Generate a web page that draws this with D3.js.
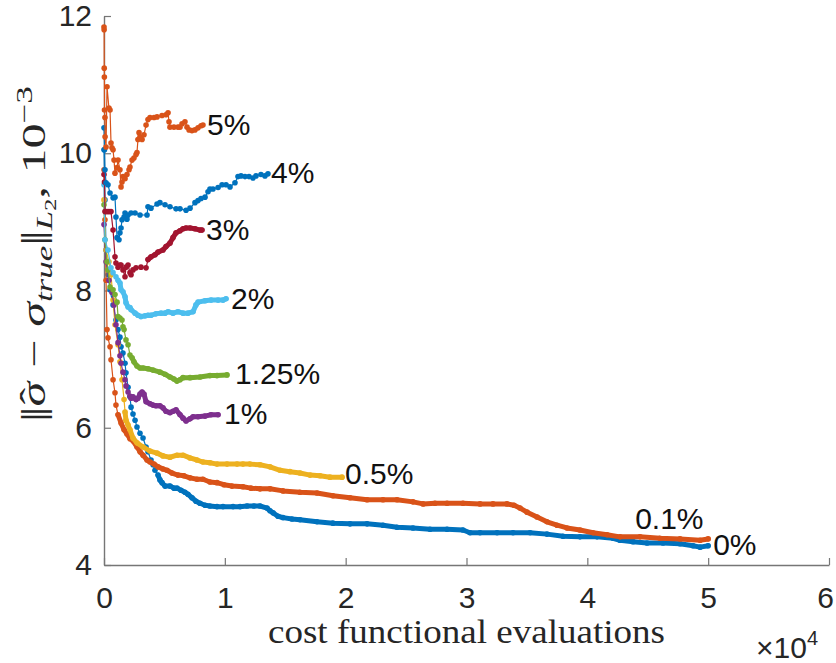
<!DOCTYPE html>
<html>
<head>
<meta charset="utf-8">
<script src="https://cdn.jsdelivr.net/npm/d3@7"></script>
<style>
  html, body { margin: 0; padding: 0; background: #fff; }
  svg { display: block; }
</style>
</head>
<body>
<svg id="chart" width="836" height="663"></svg>
<script>
// curve names, in plotting order (matlab colour order)
const names = ['0%', '0.1%', '0.5%', '1%', '1.25%', '2%', '3%', '4%', '5%'];

// cost functional evaluations / error (x 10^-3)
const evals0 = [0, 80, 170, 330, 500, 750, 990, 1160, 1320, 1410, 1570, 1740, 1820, 1990, 2150, 2240, 2400, 2570, 2730, 2980, 3230, 3480, 3640, 3890, 4060, 4220, 4470, 4630, 4800, 5050, 5460, 5790, 6040, 6370, 6700, 6950, 7280, 7610, 7940, 8360, 8770, 9350, 9850, 10680, 11260, 11840, 12410, 12910, 13490, 13740, 13990, 14400, 14810, 15560, 16220, 17630, 18950, 20360, 21770, 23090, 24250, 25570, 26980, 28390, 29710, 30290, 31120, 32530, 33850, 35260, 36660, 37990, 39390, 40800, 42130, 42700, 43780, 44940, 46260, 47670, 48750, 49330, 50000];
const err0 = [10.05, 9.32, 8.59, 8.23, 8.01, 7.79, 7.57, 7.43, 7.32, 7.18, 7.09, 6.94, 6.80, 6.59, 6.45, 6.30, 6.20, 6.11, 6.01, 5.92, 5.85, 5.72, 5.65, 5.53, 5.46, 5.38, 5.31, 5.24, 5.20, 5.15, 5.15, 5.12, 5.12, 5.09, 5.06, 5.03, 4.98, 4.93, 4.90, 4.87, 4.86, 4.85, 4.85, 4.85, 4.85, 4.86, 4.86, 4.86, 4.83, 4.79, 4.76, 4.71, 4.69, 4.67, 4.66, 4.63, 4.61, 4.60, 4.60, 4.58, 4.55, 4.54, 4.52, 4.52, 4.51, 4.47, 4.47, 4.47, 4.47, 4.47, 4.45, 4.42, 4.41, 4.41, 4.39, 4.36, 4.34, 4.32, 4.32, 4.31, 4.28, 4.26, 4.28];

const evals01 = [0, 80, 170, 250, 330, 500, 580, 750, 910, 990, 1160, 1410, 1660, 1900, 2150, 2400, 2730, 2980, 3230, 3560, 3810, 4140, 4470, 4880, 5210, 5630, 6120, 6620, 7120, 7700, 8190, 8770, 9350, 9930, 10590, 11500, 12170, 12910, 13740, 14810, 16220, 17630, 18950, 20360, 21770, 23090, 24250, 25570, 26400, 27390, 28390, 29710, 31120, 32190, 33350, 33930, 34430, 35010, 35840, 36660, 37490, 38320, 39390, 40470, 41630, 42700, 44360, 46010, 47670, 49330, 50000];
const err01 = [9.76, 9.03, 8.15, 7.43, 7.31, 7.18, 6.99, 6.70, 6.51, 6.33, 6.19, 6.07, 5.97, 5.91, 5.84, 5.81, 5.72, 5.65, 5.60, 5.53, 5.50, 5.47, 5.43, 5.40, 5.38, 5.34, 5.31, 5.30, 5.27, 5.25, 5.25, 5.21, 5.20, 5.17, 5.15, 5.14, 5.12, 5.11, 5.11, 5.08, 5.06, 5.05, 5.01, 4.98, 4.95, 4.95, 4.95, 4.92, 4.89, 4.90, 4.90, 4.90, 4.89, 4.89, 4.89, 4.87, 4.83, 4.77, 4.70, 4.63, 4.58, 4.54, 4.51, 4.47, 4.44, 4.41, 4.41, 4.39, 4.38, 4.36, 4.38];

const evals05 = [0, 170, 410, 580, 750, 910, 1160, 1320, 1490, 1660, 1740, 1820, 1990, 2150, 2400, 2730, 3230, 3810, 4390, 4880, 5460, 6040, 6540, 7120, 7700, 8190, 8770, 9350, 10180, 11010, 11500, 12080, 12910, 13740, 14570, 15390, 16220, 17050, 17880, 18700, 19700];
const err05 = [9.32, 8.59, 8.42, 8.23, 7.86, 7.50, 7.21, 6.96, 6.70, 6.41, 6.23, 6.11, 6.04, 5.97, 5.85, 5.78, 5.72, 5.66, 5.63, 5.59, 5.57, 5.60, 5.60, 5.56, 5.53, 5.50, 5.49, 5.47, 5.47, 5.47, 5.47, 5.47, 5.46, 5.43, 5.38, 5.36, 5.34, 5.31, 5.30, 5.28, 5.28];

const evals1 = [0, 170, 410, 660, 830, 990, 1160, 1320, 1410, 1570, 1740, 1820, 1990, 2150, 2240, 2400, 2650, 2810, 2980, 3150, 3310, 3480, 3810, 4060, 4300, 4630, 4880, 5130, 5460, 5710, 5960, 6290, 6540, 6790, 7120, 7370, 7780, 8360, 8860, 9440];
const err1 = [8.96, 8.42, 8.15, 7.97, 7.79, 7.50, 7.24, 7.05, 6.94, 6.81, 6.70, 6.61, 6.52, 6.46, 6.43, 6.45, 6.41, 6.43, 6.49, 6.52, 6.49, 6.38, 6.35, 6.33, 6.32, 6.32, 6.29, 6.24, 6.22, 6.24, 6.26, 6.19, 6.14, 6.10, 6.13, 6.16, 6.16, 6.17, 6.19, 6.19];

const evals125 = [0, 80, 250, 330, 500, 750, 910, 1080, 1160, 1320, 1490, 1570, 1660, 1820, 1990, 2150, 2320, 2480, 2730, 2980, 3230, 3640, 4060, 4630, 5050, 5460, 5790, 6040, 6290, 6540, 7120, 7940, 8770, 9350, 10180];
const err125 = [9.25, 8.74, 8.42, 8.30, 8.05, 8.01, 7.94, 7.83, 7.62, 7.60, 7.57, 7.47, 7.43, 7.28, 7.21, 7.06, 7.02, 6.96, 6.90, 6.87, 6.87, 6.86, 6.84, 6.81, 6.78, 6.74, 6.71, 6.68, 6.70, 6.73, 6.73, 6.74, 6.76, 6.76, 6.77];

const evals2 = [0, 80, 330, 580, 750, 990, 1160, 1320, 1410, 1570, 1740, 1820, 1990, 2150, 2240, 2570, 2810, 3060, 3390, 3640, 3890, 4300, 4720, 5050, 5300, 5710, 6120, 6540, 6950, 7370, 7610, 7780, 8360, 8860, 9440, 9850, 10100];
const err2 = [9.54, 8.74, 8.59, 8.33, 8.26, 8.20, 8.15, 8.11, 8.01, 7.98, 7.91, 7.82, 7.76, 7.75, 7.72, 7.67, 7.64, 7.62, 7.63, 7.64, 7.64, 7.66, 7.67, 7.67, 7.69, 7.67, 7.69, 7.67, 7.67, 7.69, 7.79, 7.83, 7.85, 7.86, 7.86, 7.86, 7.88];

const evals3 = [0, 40, 80, 250, 410, 580, 750, 910, 990, 1160, 1320, 1410, 1570, 1740, 1820, 1990, 2150, 2240, 2400, 2650, 3060, 3480, 3640, 3890, 4220, 4470, 4880, 5130, 5460, 5710, 5960, 6290, 6540, 6790, 7120, 7530, 7940, 8110];
const err3 = [9.69, 9.58, 9.15, 9.15, 9.15, 9.15, 8.88, 8.49, 8.40, 8.34, 8.37, 8.37, 8.30, 8.20, 8.34, 8.37, 8.26, 8.23, 8.30, 8.33, 8.34, 8.33, 8.45, 8.49, 8.52, 8.56, 8.59, 8.64, 8.69, 8.77, 8.84, 8.87, 8.90, 8.91, 8.91, 8.90, 8.88, 8.88];

const evals4 = [0, 40, 80, 170, 330, 500, 750, 910, 990, 1080, 1240, 1320, 1410, 1490, 1660, 1740, 1900, 1990, 2240, 2570, 2980, 3560, 3640, 3890, 4390, 4630, 5050, 5460, 5960, 6290, 6790, 7120, 7530, 7780, 8030, 8360, 8610, 8770, 9020, 9440, 9770, 10100, 10430, 10840, 11090, 11340, 11670, 12000, 12330, 12580, 12990, 13320, 13570];
const err4 = [10.37, 10.05, 9.76, 9.57, 9.54, 9.42, 9.35, 9.36, 9.07, 8.77, 8.74, 8.84, 8.91, 9.03, 9.07, 9.13, 9.04, 9.10, 9.13, 9.13, 9.10, 9.10, 9.22, 9.20, 9.26, 9.28, 9.25, 9.22, 9.19, 9.19, 9.17, 9.20, 9.28, 9.31, 9.34, 9.36, 9.44, 9.48, 9.48, 9.50, 9.54, 9.54, 9.51, 9.57, 9.66, 9.67, 9.66, 9.66, 9.64, 9.67, 9.69, 9.67, 9.70];

const evals5 = [0, 10, 20, 30, 40, 80, 90, 170, 250, 410, 500, 580, 660, 750, 830, 910, 1080, 1160, 1320, 1410, 1490, 1570, 1740, 1900, 2070, 2150, 2320, 2480, 2650, 2730, 2810, 2900, 2980, 3150, 3310, 3480, 3640, 3810, 4140, 4390, 4800, 5130, 5300, 5380, 5460, 5790, 6120, 6290, 6460, 6700, 6870, 7040, 7280, 7530, 7780, 8030, 8190];
const err5 = [11.84, 11.80, 11.24, 11.11, 10.63, 10.52, 10.24, 10.09, 10.97, 10.66, 10.63, 10.15, 10.08, 10.05, 9.90, 9.71, 9.79, 9.90, 9.76, 9.51, 9.58, 9.66, 9.63, 9.69, 9.76, 9.80, 9.90, 9.93, 9.98, 10.01, 10.20, 10.30, 10.24, 10.20, 10.27, 10.41, 10.49, 10.52, 10.52, 10.53, 10.55, 10.56, 10.59, 10.46, 10.38, 10.38, 10.38, 10.38, 10.43, 10.46, 10.38, 10.34, 10.33, 10.34, 10.37, 10.40, 10.41];

const xTicks = [0, 10000, 20000, 30000, 40000, 50000, 60000];
const yTicks = [4, 6, 8, 10, 12];

const evalsList = [evals0, evals01, evals05, evals1, evals125, evals2, evals3, evals4, evals5];
const errList = [err0, err01, err05, err1, err125, err2, err3, err4, err5];

// styling
const colors = ['#0072BD', '#D95319', '#EDB120', '#7E2F8E', '#77AC30', '#4DBEEE', '#A2142F', '#0072BD', '#D95319'];
// where the markers get so dense they read as a thick line
const thickFrom = { '0%': 4400, '0.1%': 1100, '0.5%': 1700, '1%': 2100, '1.25%': 2300, '2%': 1100, '3%': 3600 };
// label offset from the last point, px
const labelOffset = {
  '0%': [5, -1], '0.1%': [-73, -20], '0.5%': [3, -4], '1%': [6, -1], '1.25%': [8, -1],
  '2%': [5, 0], '3%': [4, -1], '4%': [3, -1], '5%': [4, -1],
};

const sans = "'Liberation Sans', Arial, Helvetica, sans-serif";
const serif = "'Liberation Serif', 'Times New Roman', serif";
const axisColor = '#767676';
const textColor = '#262626';

const svg = d3.select('#chart');

const x = d3.scaleLinear().domain([0, 60000]).range([104, 829]);
const y = d3.scaleLinear().domain([4, 12]).range([565, 16]);

const xAxis = svg.append('g')
  .attr('transform', `translate(0,${y(4)})`)
  .call(d3.axisBottom(x)
    .tickValues(xTicks)
    .tickFormat(d => d / 10000)
    .tickSize(-7)
    .tickSizeOuter(0)
    .tickPadding(22));

const yAxis = svg.append('g')
  .attr('transform', `translate(${x(0)},0)`)
  .call(d3.axisLeft(y)
    .tickValues(yTicks)
    .tickSize(-7)
    .tickSizeOuter(0)
    .tickPadding(12));

[xAxis, yAxis].forEach((g) => {
  g.attr('font-family', sans).attr('font-size', 30);
  g.select('.domain').attr('stroke', axisColor).attr('stroke-width', 1.4);
  g.selectAll('.tick line').attr('stroke', axisColor).attr('stroke-width', 1.2);
  g.selectAll('.tick text').attr('fill', textColor);
});
// matlab pulls the last tick label inside the figure
xAxis.selectAll('.tick text').filter(d => d === 60000).attr('dx', -4);

const line = d3.line()
  .x(d => x(d[0]))
  .y(d => y(d[1]));

const plot = svg.append('g');

names.forEach((name, i) => {
  const pts = d3.zip(evalsList[i], errList[i]);
  const g = plot.append('g');
  if (thickFrom[name] !== undefined) {
    g.append('path')
      .datum(pts.filter(d => d[0] >= thickFrom[name]))
      .attr('d', line)
      .attr('fill', 'none')
      .attr('stroke', colors[i])
      .attr('stroke-width', 5)
      .attr('stroke-linejoin', 'round')
      .attr('stroke-linecap', 'round');
  }
  g.append('path')
    .datum(pts)
    .attr('d', line)
    .attr('fill', 'none')
    .attr('stroke', colors[i])
    .attr('stroke-width', 1.2);
  g.selectAll('circle')
    .data(pts)
    .enter()
    .append('circle')
    .attr('cx', d => x(d[0]))
    .attr('cy', d => y(d[1]))
    .attr('r', 2.8)
    .style('fill', colors[i]);
});

// curve labels at the end of each curve
names.forEach((name, i) => {
  const last = evalsList[i].length - 1;
  const off = labelOffset[name];
  svg.append('text')
    .attr('x', x(evalsList[i][last]) + off[0])
    .attr('y', y(errList[i][last]) + off[1])
    .attr('dominant-baseline', 'central')
    .attr('font-family', sans)
    .attr('font-size', 30)
    .attr('fill', '#111')
    .text(name);
});

// x label
svg.append('text')
  .attr('x', (x(0) + x(60000)) / 2)
  .attr('y', 643)
  .attr('text-anchor', 'middle')
  .attr('font-family', serif)
  .attr('font-size', 33)
  .attr('fill', textColor)
  .attr('textLength', 397)
  .attr('lengthAdjust', 'spacingAndGlyphs')
  .text('cost functional evaluations');

// exponent of the x axis
const expo = svg.append('text')
  .attr('x', 756)
  .attr('y', 658)
  .attr('font-family', sans)
  .attr('font-size', 30)
  .attr('fill', textColor);
expo.append('tspan').text('\u00d710');
expo.append('tspan').attr('font-size', 20).attr('dy', -13).text('4');

// y label, stretched along the axis to the span it has in the figure
const yLab = svg.append('g');
const yt = yLab.append('text')
  .attr('font-family', serif)
  .attr('font-size', 33)
  .attr('fill', textColor);
yt.append('tspan').attr('letter-spacing', -3).text('||');
yt.append('tspan').attr('dx', 3).attr('font-style', 'italic').text('\u03c3');
yt.append('tspan').attr('dx', -15).attr('dy', -1).text('\u02c6');
yt.append('tspan').attr('dx', 5).attr('dy', 1).text(' \u2212 ');
yt.append('tspan').attr('font-style', 'italic').text('\u03c3');
yt.append('tspan').attr('font-style', 'italic').attr('font-size', 23).attr('dy', 7).text('true');
yt.append('tspan').attr('dy', -7).attr('letter-spacing', -3).text('||');
yt.append('tspan').attr('dx', 3).attr('font-style', 'italic').attr('font-size', 23).attr('dy', 7).text('L');
yt.append('tspan').attr('font-size', 16).attr('dy', 4).text('2');
yt.append('tspan').attr('dy', -11).text(', 10');
yt.append('tspan').attr('font-size', 23).attr('dy', -13).text('\u22123');

const bb = yt.node().getBBox();
const k = 336 / bb.width;
yt.attr('transform', `translate(${-bb.x - bb.width / 2},0)`);
yLab.attr('transform', `translate(45,254) rotate(-90) scale(${k},1)`);
</script>
</body>
</html>
